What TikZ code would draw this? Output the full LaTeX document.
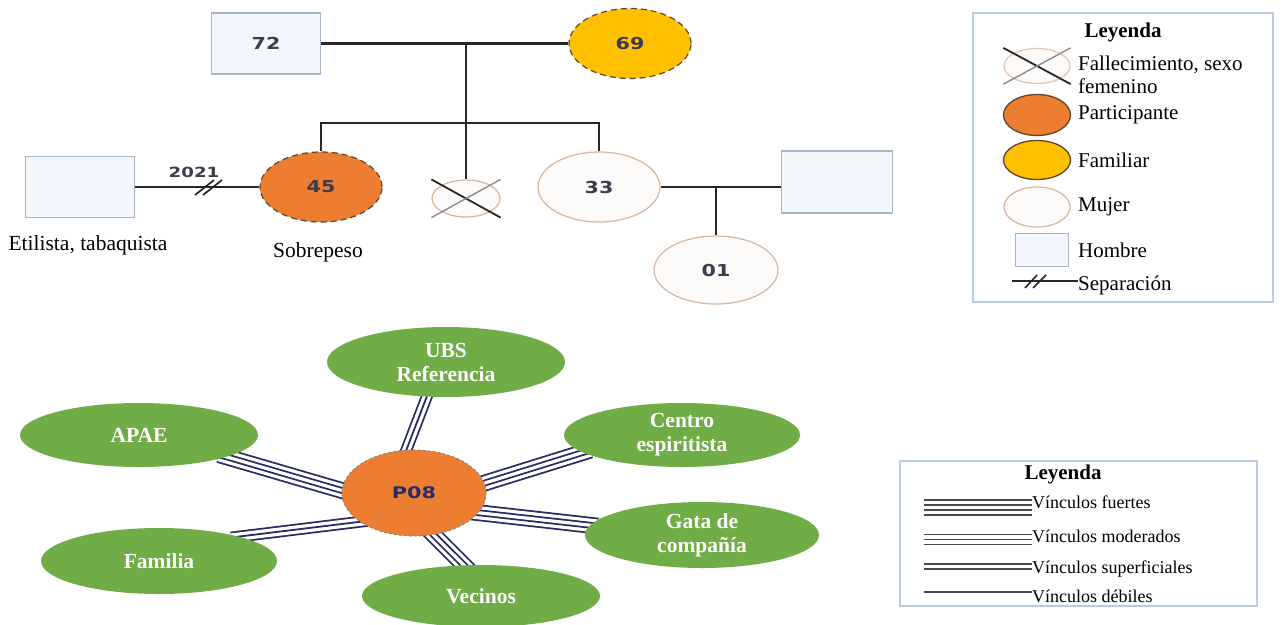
\documentclass[tikz,border=0pt]{standalone}
\usepackage{fontspec}
\setmainfont{Liberation Serif}
\newfontfamily\numfont{DejaVu Sans}
\usetikzlibrary{shapes.geometric,calc}
\pgfdeclarelayer{back}
\pgfdeclarelayer{bg}
\pgfsetlayers{back,bg,main}
\definecolor{orng}{HTML}{ED7D31}
\definecolor{yel}{HTML}{FFC000}
\definecolor{grn}{HTML}{70AD47}
\definecolor{vnavy}{HTML}{2B2B64}
\definecolor{boxbd}{HTML}{A7B6C6}
\definecolor{boxfill}{HTML}{F3F6FA}
\definecolor{mujbd}{HTML}{D9B59C}
\definecolor{mujfill}{HTML}{FDFBFA}
\definecolor{lgbd}{HTML}{B9CBDC}
\definecolor{numc}{HTML}{3C3C4C}
\definecolor{dashc}{HTML}{5A4632}
\definecolor{lgline}{HTML}{4A4A4A}
\newcommand{\gnum}[2][16.5]{{\numfont\bfseries\fontsize{#1}{18}\selectfont\scalebox{1.25}[1]{#2}}}
\tikzset{
  man/.style={rectangle, draw=boxbd, line width=1.2pt, fill=boxfill, minimum width=109pt, minimum height=61pt, inner sep=0pt, text=numc},
  woman/.style={ellipse, draw=mujbd, line width=1.2pt, fill=mujfill, minimum width=122pt, minimum height=70pt, inner sep=0pt, text=numc},
  part/.style={woman, fill=orng, draw=dashc, dash pattern=on 6pt off 4pt},
  famil/.style={woman, fill=yel, draw=dashc, dash pattern=on 6pt off 4pt},
  gline/.style={line width=2.2pt, draw=black!85},
  greennode/.style={ellipse, fill=grn, text=white, font=\bfseries\fontsize{21.5}{24}\selectfont, align=center, inner sep=0pt},
  txt/.style={font=\fontsize{21}{23}\selectfont, inner sep=0pt},
  smalltxt/.style={font=\fontsize{18}{20}\selectfont, inner sep=0pt},
  fuerte/.style={draw=#1, line width=16.8pt, postaction={draw=white, line width=13.2pt}, postaction={draw=#1, line width=6.8pt}, postaction={draw=white, line width=3.2pt}},
  fuerte/.default=vnavy,
  moder/.style={draw=#1, line width=11.8pt, postaction={draw=white, line width=8.2pt}, postaction={draw=#1, line width=1.8pt}},
  moder/.default=vnavy,
  superf/.style={draw=#1, line width=6.8pt, postaction={draw=white, line width=3.2pt}},
  superf/.default=vnavy,
  debil/.style={draw=#1, line width=1.8pt},
  debil/.default=vnavy,
}
\begin{document}
\begin{tikzpicture}[x=1pt, y=-1pt]
\useasboundingbox (0,0) rectangle (1282,624);
\begin{pgfonlayer}{back}
\fill[white] (0,0) rectangle (1282,624);
\end{pgfonlayer}

% ---------------- Genogram ----------------
\node[man] (m72) at (266,43.5) {\gnum{72}};
\node[famil] (f69) at (630,43.5) {\gnum{69}};
\coordinate (j1) at (466,43.5);
\draw[gline] (m72.east) -- (f69.west);

\node[part] (p45) at (321,187) {\gnum{45}};
\node[woman, minimum width=68pt, minimum height=37pt] (dec) at (466,198.5) {};
\node[woman] (w33) at (599,187) {\gnum{33}};
\coordinate (sb) at (466,123);
\draw[gline] (j1) -- (dec.north);
\draw[gline] (p45.north) |- (sb) -| (w33.north);
\draw[line width=1.8pt, black!85] (dec.north -| dec.west) -- (dec.south -| dec.east);
\draw[line width=1.4pt, black!45] (dec.south -| dec.west) -- (dec.north -| dec.east);

\node[man] (mL) at (80,187) {};
\draw[gline] (mL.east) -- (p45.west);
\draw[line width=1.7pt, black!85] (195,195) -- (214,180);
\draw[line width=1.7pt, black!85] (203,195) -- (222,180);
\node[inner sep=0pt, text=numc] (y2021) at (194,172) {{\numfont\bfseries\fontsize{14}{16}\selectfont\scalebox{1.3}[1]{2021}}};

\node[man, minimum width=111pt, minimum height=62pt] (mR) at (837,182) {};
\draw[gline] (w33.east) -- (w33.east -| mR.west);
\coordinate (cj) at (716,187);
\node[woman, minimum width=124pt, minimum height=68pt] (c01) at (716,270) {\gnum{01}};
\draw[gline] (cj) -- (c01.north);

\node[txt, font=\fontsize{21.5}{24}\selectfont] (lab1) at (88,245) {Etilista, tabaquista};
\node[txt, font=\fontsize{21.5}{24}\selectfont] (lab2) at (318,252) {Sobrepeso};

% ---------------- Legend 1 ----------------
\node[draw=lgbd, line width=1.5pt, minimum width=300pt, minimum height=289pt, inner sep=0pt] (leg1) at (1123,157.5) {};
\node[txt, font=\bfseries\fontsize{21}{23}\selectfont] (leg1t) at (1123,32) {Leyenda};
\node[woman, minimum width=66pt, minimum height=35pt, draw=mujbd!80, fill=mujfill] (ld) at (1037,66) {};
\draw[line width=1.8pt, black!85] (ld.north -| ld.west) -- (ld.south -| ld.east);
\draw[line width=1.4pt, black!45] (ld.south -| ld.west) -- (ld.north -| ld.east);
\node[txt, anchor=west, align=left] (ldt) at (1078,74.5) {Fallecimiento, sexo\\femenino};
\node[woman, fill=orng, draw=dashc, line width=1.3pt, minimum width=67pt, minimum height=41pt] (lp) at (1037,115) {};
\node[txt, anchor=west] (lpt) at (1078,115) {Participante};
\node[woman, fill=yel, draw=dashc, line width=1.3pt, minimum width=67pt, minimum height=39pt] (lf) at (1037,160) {};
\node[txt, anchor=west] (lft) at (1078,160) {Familiar};
\node[woman, minimum width=66pt, minimum height=40pt] (lm) at (1037,207) {};
\node[txt, anchor=west] (lmt) at (1078,207) {Mujer};
\node[man, minimum width=53pt, minimum height=33pt] (lh) at (1042,250) {};
\node[txt, anchor=west] (lht) at (1078,250) {Hombre};
\coordinate (ls1) at (1012,281);
\node[txt, anchor=west] (lst) at (1078,285) {Separación};
\draw[line width=1.6pt, black!85] (ls1) -- (ls1 -| lst.west);
\draw[line width=1.6pt, black!85] (1025,288) -- (1037,275);
\draw[line width=1.6pt, black!85] (1033,288) -- (1046,275);

% ---------------- Network ----------------
\node[ellipse, fill=orng, draw=dashc!70, dash pattern=on 3pt off 2pt, line width=0.8pt, minimum width=144pt, minimum height=86pt, inner sep=0pt] (p08) at (414,493)
  {\textcolor{vnavy}{\numfont\bfseries\fontsize{16}{18}\selectfont\scalebox{1.3}[1]{P08}}};
\node[greennode, minimum width=238pt, minimum height=70pt] (ubs) at (446,362) {UBS\\Referencia};
\node[greennode, minimum width=238pt, minimum height=64pt] (apae) at (139,435) {APAE};
\node[greennode, minimum width=236pt, minimum height=64pt] (cen) at (682,435) {Centro\\espiritista};
\node[greennode, minimum width=234pt, minimum height=66pt] (gata) at (702,535) {Gata de\\compañía};
\node[greennode, minimum width=236pt, minimum height=66pt] (fam) at (159,561) {Familia};
\node[greennode, minimum width=238pt, minimum height=62pt] (vec) at (481,596) {Vecinos};

\begin{pgfonlayer}{bg}
\draw[moder] ($(p08.100)!-8pt!(ubs.241)$) -- ($(ubs.241)!-8pt!(p08.100)$);
\draw[fuerte] ($(p08.178)!-8pt!(apae.346)$) -- ($(apae.346)!-8pt!(p08.178)$);
\draw[fuerte] ($(p08.8)!-8pt!(cen.190)$) -- ($(cen.190)!-8pt!(p08.8)$);
\draw[fuerte] ($(p08.343)!-8pt!(gata.175)$) -- ($(gata.175)!-8pt!(p08.343)$);
\draw[moder] ($(p08.208)!-8pt!(fam.17)$) -- ($(fam.17)!-8pt!(p08.208)$);
\draw[fuerte] ($(p08.295)!-8pt!(vec.119)$) -- ($(vec.119)!-8pt!(p08.295)$);
\end{pgfonlayer}

% ---------------- Legend 2 ----------------
\node[draw=lgbd, line width=1.5pt, minimum width=357pt, minimum height=145pt, inner sep=0pt] (leg2) at (1078.5,533.5) {};
\node[txt, font=\bfseries\fontsize{21}{23}\selectfont] (leg2t) at (1063,474) {Leyenda};
\node[smalltxt, anchor=west] (v1) at (1032,502) {Vínculos fuertes};
\node[smalltxt, anchor=west] (v2) at (1032,536) {Vínculos moderados};
\node[smalltxt, anchor=west] (v3) at (1032,569) {Vínculos superficiales};
\node[smalltxt, anchor=west] (v4) at (1032,596) {Vínculos débiles};
\coordinate (a1) at (924,507.5);
\coordinate (a2) at (924,539.5);
\coordinate (a3) at (924,566.5);
\coordinate (a4) at (924,592);
\draw[fuerte=lgline] (a1) -- (a1 -| v1.west);
\draw[moder=lgline] (a2) -- (a2 -| v2.west);
\draw[superf=lgline] (a3) -- (a3 -| v3.west);
\draw[debil=lgline] (a4) -- (a4 -| v4.west);
\end{tikzpicture}
\end{document}
